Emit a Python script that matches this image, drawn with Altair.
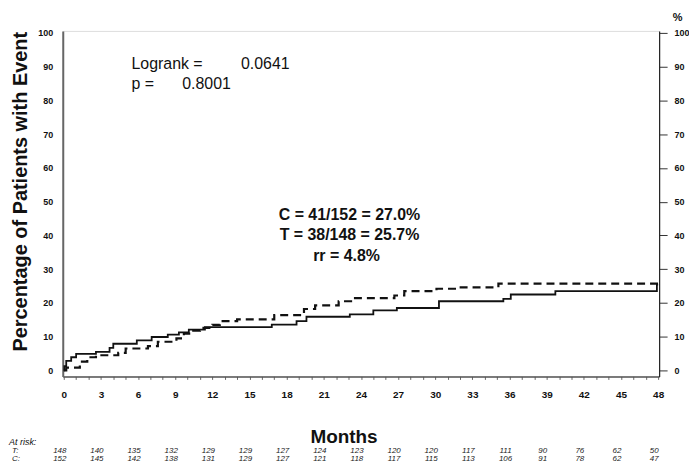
import altair as alt
import pandas as pd

# ---- data ----
t_months = [0, 0.05, 0.2, 0.6, 1.0, 2.6, 3.7, 4.0, 5.9, 7.1, 8.4, 9.3, 10.1, 11.4,
            16.8, 18.8, 19.6, 23.1, 25.0, 26.9, 30.3, 35.5, 36.1, 39.7, 47.9, 48.0]
t_pct = [0, 1.3, 2.8, 3.9, 4.9, 5.5, 6.7, 7.9, 8.9, 9.9, 10.6, 11.3, 12.1, 12.8,
         13.6, 14.6, 15.9, 16.6, 17.8, 18.5, 20.5, 21.2, 22.5, 23.5, 25.4, 25.4]

c_months = [0, 0.2, 1.3, 1.9, 2.6, 4.4, 5.0, 6.8, 7.6, 9.1, 9.7, 10.3, 11.0, 12.0,
            12.6, 14.0, 17.0, 19.4, 20.3, 22.2, 23.2, 26.7, 27.5, 30.1, 31.7, 35.1, 48.0]
c_pct = [0, 0.8, 2.6, 3.9, 4.5, 5.2, 6.5, 7.2, 8.5, 9.5, 10.9, 11.8, 12.6, 13.5,
         14.6, 15.1, 16.4, 18.2, 19.3, 20.5, 21.4, 22.2, 23.5, 24.2, 24.6, 25.7, 25.7]

risk_months = [0, 3, 6, 9, 12, 15, 18, 21, 24, 27, 30, 33, 36, 39, 42, 45, 48]
t_at_risk = [148, 140, 135, 132, 129, 129, 127, 124, 123, 120, 120, 117, 111, 90, 76, 62, 50]
c_at_risk = [152, 145, 142, 138, 131, 129, 127, 121, 118, 117, 115, 113, 106, 91, 78, 62, 47]

y_ticks = list(range(0, 101, 10))
x_ticks = list(range(0, 49))

FONT = "Liberation Sans"

t_df = pd.DataFrame({"month": t_months, "pct": t_pct})
c_df = pd.DataFrame({"month": c_months, "pct": c_pct})
risk_df = pd.DataFrame({"month": risk_months, "T": t_at_risk, "C": c_at_risk})

x_scale = alt.Scale(domain=[-0.08, 48.08], nice=False, zero=False)
y_scale = alt.Scale(domain=[-1.77, 100.6], nice=False, zero=False)

x_axis = alt.Axis(
    values=x_ticks,
    labelExpr="datum.value % 3 == 0 ? datum.label : ''",
    title="Months", titleFont=FONT, titleFontSize=19, titleFontWeight="bold",
    titleColor="#111", titleX=282, titleY=60, titleBaseline="middle",
    titleAnchor="start", titleAlign="center",
    labelFont=FONT, labelFontSize=10, labelFontWeight="bold", labelColor="#111",
    labelPadding=10, tickSize=3, tickColor="#666", domainColor="#555",
    domainWidth=1.5, grid=False, labelFlush=False,
)

x_enc = alt.X("month:Q", scale=x_scale, axis=x_axis)

y_left = alt.Axis(
    values=y_ticks, orient="left",
    title="Percentage of Patients with Event", titleFont=FONT, titleFontSize=20,
    titleFontWeight="bold", titleColor="#111", titleAngle=-90, titleX=-42,
    titleY=161, titleAlign="center", titleBaseline="middle", titleAnchor="start",
    labelFont=FONT, labelFontSize=9, labelFontWeight="bold", labelColor="#111",
    ticks=False, labelPadding=10, domainColor="#666", domainWidth=2, grid=False,
)
y_right = alt.Axis(
    values=y_ticks, orient="right",
    title="%", titleFont=FONT, titleFontSize=11, titleFontWeight="bold",
    titleColor="#111", titleAngle=0, titleX=18, titleY=-13, titleAlign="center",
    titleBaseline="middle", titleAnchor="start",
    labelFont=FONT, labelFontSize=9, labelFontWeight="bold", labelColor="#111",
    tickSize=8, tickColor="#333", labelPadding=7, domainColor="#222",
    domainWidth=1.2, grid=False,
)

line_t = alt.Chart(t_df).mark_line(
    interpolate="step-after", color="#111", strokeWidth=1.8
).encode(x=x_enc, y=alt.Y("pct:Q", scale=y_scale, axis=y_left))

line_c = alt.Chart(c_df).mark_line(
    interpolate="step-after", color="#111", strokeWidth=2.2, strokeDash=[8, 5]
).encode(x=x_enc, y=alt.Y("pct:Q", scale=y_scale, axis=y_right))


def label(txt, x, y, size=16, weight="normal", align="left", style="normal"):
    return alt.Chart(pd.DataFrame({"t": [txt]})).mark_text(
        font=FONT, fontSize=size, fontWeight=weight, align=align,
        baseline="middle", color="#111", fontStyle=style,
    ).encode(text="t:N", x=alt.value(x), y=alt.value(y))


texts = [
    label("Logrank =", 69, 33),
    label("0.0641", 179, 33),
    label("p =", 69, 53),
    label("0.8001", 120, 53),
    label("C = 41/152 = 27.0%", 288, 185, weight="bold", align="center"),
    label("T = 38/148 = 25.7%", 288, 205, weight="bold", align="center"),
    label("rr = 4.8%", 285, 226, weight="bold", align="center"),
    label("At risk:", -54, 413, size=9, style="italic"),
    label("T:", -51, 422, size=8, style="italic"),
    label("C:", -51, 430, size=8, style="italic"),
]

risk_t = alt.Chart(risk_df).mark_text(
    font=FONT, fontSize=8, fontStyle="italic", color="#222", dx=-4
).encode(x=x_enc, y=alt.value(422), text="T:Q")
risk_c = alt.Chart(risk_df).mark_text(
    font=FONT, fontSize=8, fontStyle="italic", color="#222", dx=-4
).encode(x=x_enc, y=alt.value(430), text="C:Q")

chart = alt.layer(line_t, line_c, risk_t, risk_c, *texts).resolve_axis(
    y="independent"
).properties(
    width=599, height=347,
    autosize=alt.AutoSizeParams(type="none"),
    padding={"left": 55, "top": 22, "right": 30, "bottom": 92},
).configure_view(stroke=None).configure(background="white")

chart.save("out.html", embed_options={"renderer": "svg", "actions": False})
